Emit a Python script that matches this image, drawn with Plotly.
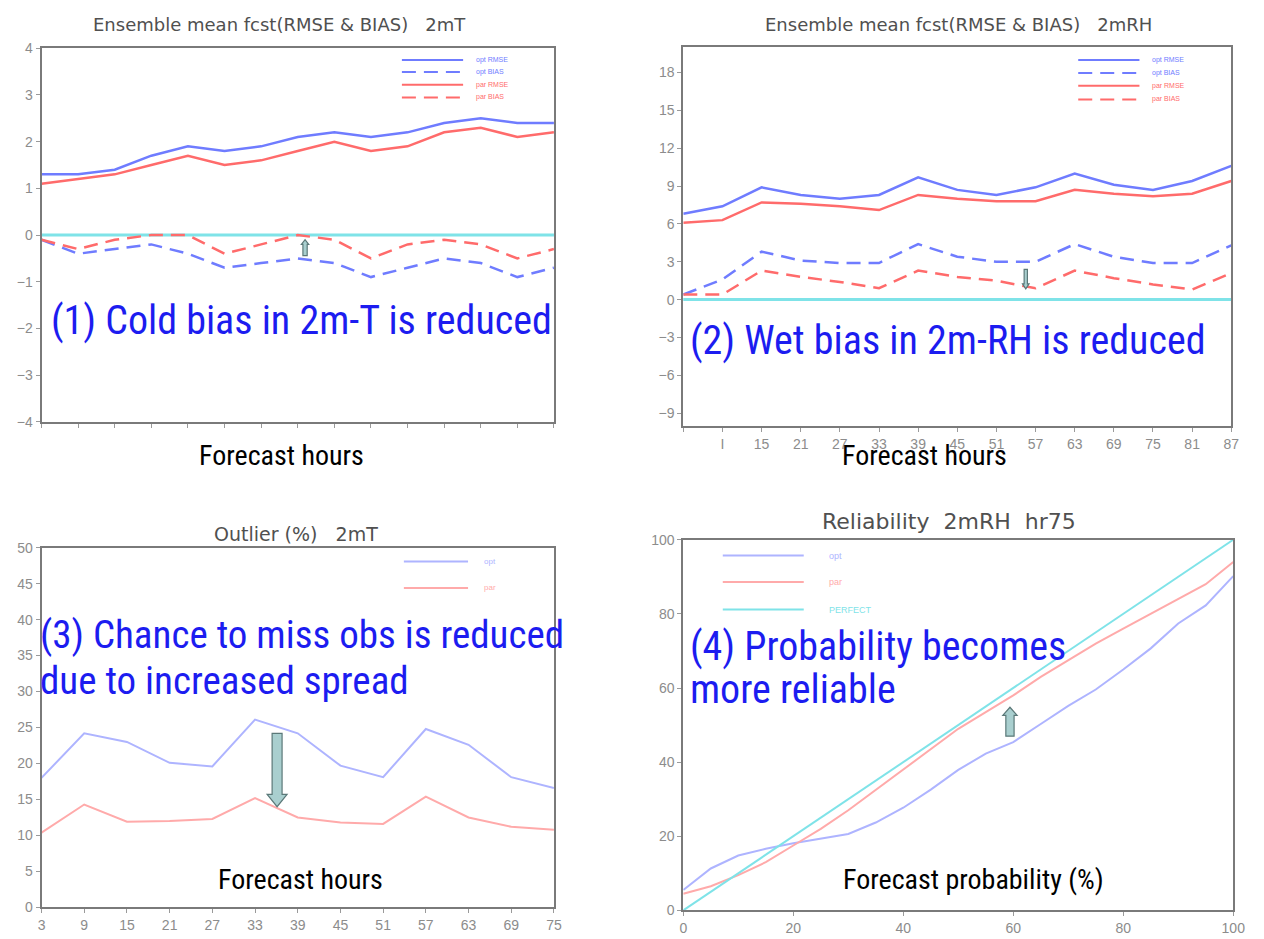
import plotly.graph_objects as go

# ---------------- data ----------------
hours_a = [3, 9, 15, 21, 27, 33, 39, 45, 51, 57, 63, 69, 75, 81, 87]
t2m_opt_rmse = [1.3, 1.3, 1.4, 1.7, 1.9, 1.8, 1.9, 2.1, 2.2, 2.1, 2.2, 2.4, 2.5, 2.4, 2.4]
t2m_opt_bias = [-0.1, -0.4, -0.3, -0.2, -0.4, -0.7, -0.6, -0.5, -0.6, -0.9, -0.7, -0.5, -0.6, -0.9, -0.7]
t2m_par_rmse = [1.1, 1.2, 1.3, 1.5, 1.7, 1.5, 1.6, 1.8, 2.0, 1.8, 1.9, 2.2, 2.3, 2.1, 2.2]
t2m_par_bias = [-0.1, -0.3, -0.1, 0.0, 0.0, -0.4, -0.2, 0.0, -0.1, -0.5, -0.2, -0.1, -0.2, -0.5, -0.3]

rh_opt_rmse = [6.8, 7.4, 8.9, 8.3, 8.0, 8.3, 9.7, 8.7, 8.3, 8.9, 10.0, 9.1, 8.7, 9.4, 10.6]
rh_par_rmse = [6.1, 6.3, 7.7, 7.6, 7.4, 7.1, 8.3, 8.0, 7.8, 7.8, 8.7, 8.4, 8.2, 8.4, 9.4]
rh_opt_bias = [0.4, 1.6, 3.8, 3.1, 2.9, 2.9, 4.4, 3.4, 3.0, 3.0, 4.4, 3.4, 2.9, 2.9, 4.3]
rh_par_bias = [0.4, 0.4, 2.3, 1.8, 1.4, 0.9, 2.3, 1.8, 1.5, 0.9, 2.3, 1.7, 1.2, 0.8, 2.1]
rh_tick_vals = [3, 9, 15, 21, 27, 33, 39, 45, 51, 57, 63, 69, 75, 81, 87]
rh_tick_text = ["", "I", "15", "21", "27", "33", "39", "45", "51", "57", "63", "69", "75", "81", "87"]

hours_b = [3, 9, 15, 21, 27, 33, 39, 45, 51, 57, 63, 69, 75]
out_opt = [18.0, 24.2, 23.0, 20.1, 19.6, 26.1, 24.2, 19.7, 18.1, 24.8, 22.6, 18.1, 16.6]
out_par = [10.4, 14.3, 11.9, 12.0, 12.3, 15.2, 12.5, 11.8, 11.6, 15.4, 12.5, 11.2, 10.8]

rel_prob = [0, 5, 10, 15, 20, 25, 30, 35, 40, 45, 50, 55, 60, 65, 70, 75, 80, 85, 90, 95, 100]
rel_opt = [5.5, 11.3, 14.8, 16.6, 18.1, 19.3, 20.6, 23.7, 27.7, 32.6, 37.9, 42.3, 45.4, 50.3,
           55.2, 59.6, 65.0, 70.7, 77.4, 82.3, 90.2]
rel_par = [4.5, 6.5, 9.5, 13.0, 17.5, 22.0, 27.0, 32.5, 38.0, 43.5, 49.0, 53.5, 58.0, 63.0,
           67.5, 72.0, 76.0, 80.0, 84.0, 88.0, 94.0]
perfect_x = [0, 100]
perfect_y = [0, 100]

# ---------------- styling ----------------
W, H = 1264, 939
BLUE = "#6f7cff"
RED = "#ff6b6b"
LBLUE = "#aeb4ff"
LRED = "#ffaaaa"
CYAN = "#7fe3e8"
TXT_BLUE = "#1c1cf0"
GREY = "#8c8c8c"
TITLE = "#505050"
DASH = "14px,8px"
BIGFONT = "Liberation Sans Narrow, Arial Narrow, Roboto Condensed, Liberation Sans, sans-serif"
SMALLFONT = "Liberation Sans, Arial, sans-serif"
TITLEFONT = "DejaVu Sans, Verdana, sans-serif"


def px_x(p):
    return p / W


def px_y(p):
    return 1 - p / H


fig = go.Figure()


def add_line(xs, ys, color, xa, ya, name, dash="solid", width=2.5):
    fig.add_trace(go.Scatter(
        x=xs, y=ys, mode="lines", xaxis=xa, yaxis=ya,
        line=dict(color=color, width=width, dash=dash),
        name=name, showlegend=False, hoverinfo="skip",
    ))


# Panel 1: 2mT RMSE & BIAS
add_line(hours_a, t2m_opt_rmse, BLUE, "x", "y", "opt RMSE")
add_line(hours_a, t2m_opt_bias, BLUE, "x", "y", "opt BIAS", dash=DASH)
add_line(hours_a, t2m_par_rmse, RED, "x", "y", "par RMSE")
add_line(hours_a, t2m_par_bias, RED, "x", "y", "par BIAS", dash=DASH)

# Panel 2: 2mRH RMSE & BIAS
add_line(hours_a, rh_opt_rmse, BLUE, "x2", "y2", "opt RMSE")
add_line(hours_a, rh_opt_bias, BLUE, "x2", "y2", "opt BIAS", dash=DASH)
add_line(hours_a, rh_par_rmse, RED, "x2", "y2", "par RMSE")
add_line(hours_a, rh_par_bias, RED, "x2", "y2", "par BIAS", dash=DASH)

# Panel 3: Outlier
add_line(hours_b, out_opt, LBLUE, "x3", "y3", "opt", width=2)
add_line(hours_b, out_par, LRED, "x3", "y3", "par", width=2)

# Panel 4: Reliability
add_line(rel_prob, rel_opt, LBLUE, "x4", "y4", "opt", width=2)
add_line(rel_prob, rel_par, LRED, "x4", "y4", "par", width=2)
add_line(perfect_x, perfect_y, CYAN, "x4", "y4", "PERFECT", width=2)

# ---------------- axes ----------------
axis_common = dict(
    showline=True, mirror=True, linecolor="#7a7a7a", linewidth=2,
    ticks="outside", ticklen=4, tickcolor="#9a9a9a", tickwidth=1,
    showgrid=False, zeroline=False,
    tickfont=dict(family=SMALLFONT, size=14, color=GREY),
)

panels = {
    "1": dict(x=(38, 557), y=(41, 421)),
    "2": dict(x=(688, 1243), y=(40, 425)),
    "3": dict(x=(38, 557), y=(549, 915)),
    "4": dict(x=(688, 1245), y=(541, 918)),
}


def dom(p):
    d = panels[p]
    return [px_x(d["x"][0]), px_x(d["x"][1])], [px_y(d["y"][1]), px_y(d["y"][0])]


xd1, yd1 = dom("1")
xd2, yd2 = dom("2")
xd3, yd3 = dom("3")
xd4, yd4 = dom("4")

fig.update_layout(
    xaxis=dict(axis_common, domain=xd1, anchor="y", range=[3, 87], tickvals=hours_a,
               showticklabels=False),
    yaxis=dict(axis_common, domain=yd1, anchor="x", range=[-4, 4], dtick=1),
    xaxis2=dict(axis_common, domain=xd2, anchor="y2", range=[3, 87], tickvals=rh_tick_vals,
                ticktext=rh_tick_text),
    yaxis2=dict(axis_common, domain=yd2, anchor="x2", range=[-10, 20], tickvals=list(range(-9, 19, 3))),
    xaxis3=dict(axis_common, domain=xd3, anchor="y3", range=[3, 75], tickvals=hours_b),
    yaxis3=dict(axis_common, domain=yd3, anchor="x3", range=[0, 50], dtick=5),
    xaxis4=dict(axis_common, domain=xd4, anchor="y4", range=[0, 100], dtick=20),
    yaxis4=dict(axis_common, domain=yd4, anchor="x4", range=[0, 100], dtick=20),
)

# zero lines (cyan) in panels 1 and 2
for xr, yr in (("x domain", "y"), ("x2 domain", "y2")):
    fig.add_shape(type="line", xref=xr, yref=yr, x0=0, x1=1, y0=0, y1=0,
                  line=dict(color=CYAN, width=3), layer="below")


# block arrows
def block_arrow(xref, yref, x, y_base, y_tip, shaft, head, head_len):
    s = 1 if y_tip > y_base else -1
    yn = y_tip - s * head_len
    path = ("M {a},{b} L {c},{b} L {c},{d} L {e},{d} L {x},{t} L {f},{d} L {a},{d} Z"
            .format(a=x - shaft, c=x + shaft, b=y_base, d=yn, e=x + head, f=x - head, x=x, t=y_tip))
    fig.add_shape(type="path", xref=xref, yref=yref, path=path,
                  fillcolor="#a9cfcf", line=dict(color="#5b7878", width=1.2))


block_arrow("x", "y", 46.2, -0.44, -0.1, 0.35, 0.6, 0.1)
block_arrow("x2", "y2", 55.5, 2.4, 0.85, 0.25, 0.5, 0.4)
block_arrow("x3", "y3", 36.1, 24.2, 14.0, 0.7, 1.4, 1.7)
block_arrow("x4", "y4", 59.4, 47.0, 54.8, 0.75, 1.3, 2.2)


# ---------------- texts ----------------
def text(s, xp, yp, size, color, family, xanchor="left"):
    fig.add_annotation(text=s, x=px_x(xp), y=px_y(yp), xref="paper", yref="paper",
                       xanchor=xanchor, yanchor="middle", showarrow=False,
                       align="left", font=dict(family=family, size=size, color=color))


# ---------------- legends (key line + label) ----------------
def legend_item(x0, x1, yp, color, label, tx, size, dash="solid", width=2):
    fig.add_shape(type="line", xref="paper", yref="paper",
                  x0=px_x(x0), x1=px_x(x1), y0=px_y(yp), y1=px_y(yp),
                  line=dict(color=color, width=width, dash=dash))
    text(label, tx, yp, size, color, SMALLFONT)


leg1 = [("opt RMSE", BLUE, "solid"), ("opt BIAS", BLUE, DASH),
        ("par RMSE", RED, "solid"), ("par BIAS", RED, DASH)]
for (lab, col, d), yp in zip(leg1, [53, 65, 78, 91]):
    legend_item(403, 465, yp, col, lab, 476, 7, d)
for (lab, col, d), yp in zip(leg1, [53, 66, 79, 93]):
    legend_item(1088, 1150, yp, col, lab, 1161, 7, d)
for (lab, col), yp in zip([("opt", LBLUE), ("par", LRED)], [563, 590]):
    legend_item(405, 470, yp, col, lab, 484, 8)
for (lab, col), yp in zip([("opt", LBLUE), ("par", LRED), ("PERFECT", CYAN)], [557, 584, 612]):
    legend_item(728, 810, yp, col, lab, 834, 9)

# titles
text("Ensemble mean fcst(RMSE &amp; BIAS)   2mT", 279, 17, 18, TITLE, TITLEFONT, "center")
text("Ensemble mean fcst(RMSE &amp; BIAS)   2mRH", 967, 17, 18, TITLE, TITLEFONT, "center")
text("Outlier (%)   2mT", 296, 535, 19, TITLE, TITLEFONT, "center")
text("Reliability  2mRH  hr75", 957, 522, 22, TITLE, TITLEFONT, "center")

# x labels
text("Forecast hours", 281, 455, 28, "#000000", BIGFONT, "center")
text("Forecast hours", 932, 455, 28, "#000000", BIGFONT, "center")
text("Forecast hours", 300, 887, 28, "#000000", BIGFONT, "center")
text("Forecast probability (%)", 982, 887, 28, "#000000", BIGFONT, "center")

# big blue notes
text("(1) Cold bias in 2m-T is reduced", 46, 318, 40, TXT_BLUE, BIGFONT)
text("(2) Wet bias in 2m-RH is reduced", 693, 338, 40, TXT_BLUE, BIGFONT)
text("(3) Chance to miss obs is reduced", 34, 638, 39, TXT_BLUE, BIGFONT)
text("due to increased spread", 34, 685, 39, TXT_BLUE, BIGFONT)
text("(4) Probability becomes", 693, 650, 40, TXT_BLUE, BIGFONT)
text("more reliable", 693, 693, 40, TXT_BLUE, BIGFONT)

fig.update_layout(
    width=W, height=H, margin=dict(l=0, r=0, t=0, b=0),
    paper_bgcolor="white", plot_bgcolor="white",
)

fig.write_html("out.html")
